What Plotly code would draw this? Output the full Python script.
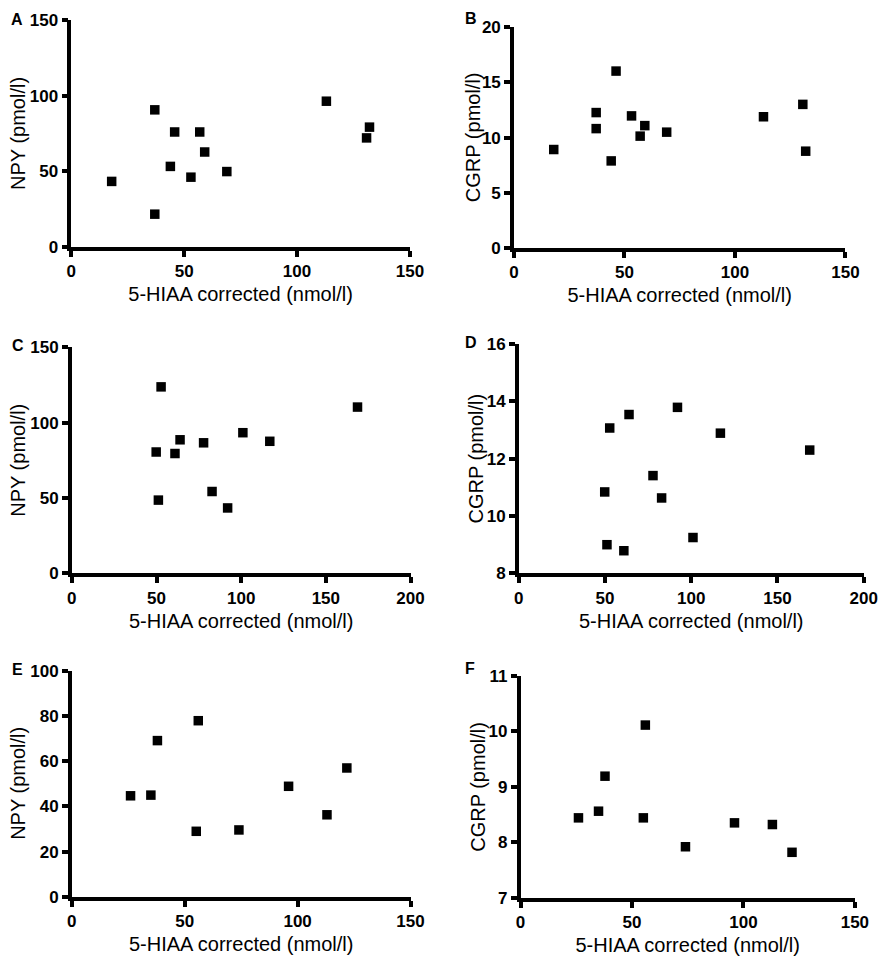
import plotly.graph_objects as go

# panel A / B share the same patients (x = 5-HIAA)
x_ab = [17.9, 37.0, 37.0, 43.9, 45.8, 53.0, 56.9, 59.1, 68.9, 113.0, 130.8, 132.1]
npy_a = [43.4, 90.6, 21.8, 53.3, 76.0, 46.2, 76.0, 62.8, 49.9, 96.3, 72.1, 79.2]
x_b = [18.0, 37.2, 37.2, 44.0, 46.2, 53.2, 57.1, 59.2, 69.1, 112.9, 130.7, 132.0]
cgrp_b = [8.92, 12.26, 10.81, 7.89, 16.01, 11.96, 10.13, 11.08, 10.49, 11.88, 13.0, 8.77]

# panel C / D
x_cd = [49.8, 51.1, 52.7, 60.9, 63.9, 77.8, 82.8, 92.0, 101.0, 116.9, 168.7]
npy_c = [80.5, 48.6, 123.7, 79.5, 88.6, 86.6, 54.3, 43.4, 93.3, 87.6, 110.3]
cgrp_d = [10.84, 9.00, 13.07, 8.79, 13.54, 11.41, 10.63, 13.79, 9.25, 12.89, 12.30]

# panel E / F
x_ef = [26.0, 35.0, 37.9, 55.1, 56.0, 74.0, 96.0, 113.0, 121.8]
npy_e = [44.7, 45.0, 69.1, 29.0, 77.9, 29.6, 48.9, 36.3, 57.0]
cgrp_f = [8.44, 8.56, 9.19, 8.44, 10.11, 7.92, 8.35, 8.32, 7.82]

letters = ["A", "B", "C", "D", "E", "F"]
x_title = "5-HIAA corrected (nmol/l)"
y_titles = ["NPY (pmol/l)", "CGRP (pmol/l)"] * 3

W, H = 895, 966
FONT = "Liberation Sans, Arial, Helvetica, sans-serif"

# pixel boxes of each plot area: (left, right, top, bottom)
boxes = [
    (67.7, 413.7, 11, 243),
    (520, 858.7, 18.3, 244),
    (68.3, 414.3, 345, 575.7),
    (525, 877.3, 341.7, 575.7),
    (68.3, 414.3, 675, 905.7),
    (526.7, 868.3, 680, 906.7),
]
x_ranges = [[0, 150], [0, 150], [0, 200], [0, 200], [0, 150], [0, 150]]
y_ranges = [[0, 150], [0, 20], [0, 150], [8, 16], [0, 100], [7, 11]]
y_dticks = [50, 5, 50, 2, 20, 1]
y_title_x = [12.7, 477.7, 13.7, 481, 13.3, 483.3]
letter_pos = [(12.5, 11), (476, 9.5), (13.5, 343), (476, 340.5), (12.5, 673.5), (475, 673)]

series = [
    (x_ab, npy_a),
    (x_b, cgrp_b),
    (x_cd, npy_c),
    (x_cd, cgrp_d),
    (x_ef, npy_e),
    (x_ef, cgrp_f),
]

fig = go.Figure()
layout = {}
annotations = []
for i, (xs, ys) in enumerate(series):
    n = "" if i == 0 else str(i + 1)
    fig.add_trace(go.Scatter(
        x=xs, y=ys, mode="markers",
        marker=dict(symbol="square", size=9.5, color="black", line=dict(width=0)),
        xaxis="x" + n, yaxis="y" + n, showlegend=False, cliponaxis=False,
    ))
    l, r, t, b = boxes[i]
    common = dict(
        showline=True, linecolor="black", linewidth=3.5,
        ticks="outside", ticklen=6, tickwidth=3.5, tickcolor="black",
        showgrid=False, zeroline=False,
        tickprefix="<b>", ticksuffix="</b>",
        tickfont=dict(family=FONT, size=17, color="black"),
    )
    layout["xaxis" + n] = dict(
        domain=[l / W, r / W], range=x_ranges[i], dtick=50,
        anchor="y" + n,
        title=dict(text=x_title, font=dict(family=FONT, size=20, color="black"), standoff=8),
        **common,
    )
    layout["yaxis" + n] = dict(
        domain=[1 - b / H, 1 - t / H], range=y_ranges[i], dtick=y_dticks[i],
        anchor="x" + n,
        **common,
    )
    # y titles as rotated text so their position can be matched exactly
    annotations.append(dict(
        text=y_titles[i], textangle=-90,
        x=y_title_x[i] / W, y=1 - (t + b) / 2 / H, xref="paper", yref="paper",
        showarrow=False, xanchor="center", yanchor="middle",
        font=dict(family=FONT, size=20, color="black"),
    ))

for i, let in enumerate(letters):
    px, py = letter_pos[i]
    annotations.append(dict(
        text="<b>%s</b>" % let, x=px / W, y=1 - py / H, xref="paper", yref="paper",
        showarrow=False, xanchor="center", yanchor="middle",
        font=dict(family=FONT, size=16, color="black"),
    ))

fig.update_layout(
    width=W, height=H,
    margin=dict(l=0, r=0, t=0, b=0),
    paper_bgcolor="white", plot_bgcolor="white",
    annotations=annotations,
    **layout,
)

# the page body has a default 8px margin; drop it so the figure sits at 0,0
fig.write_html("out.html", config={"displayModeBar": False},
               post_script="document.body.style.margin = '0';")
